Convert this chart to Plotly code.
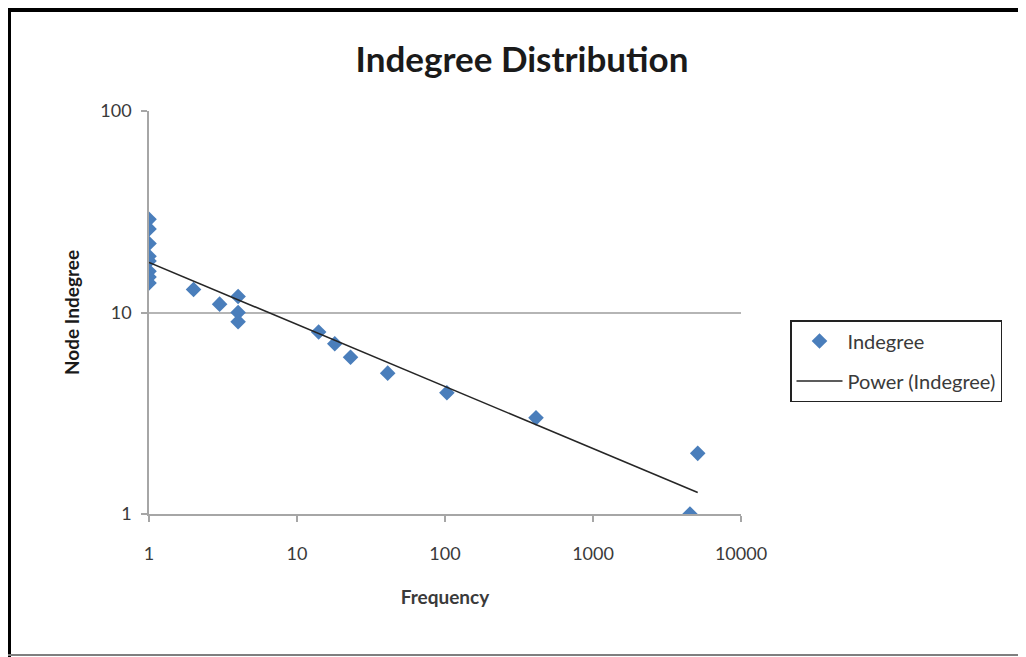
import numpy as np
import plotly.graph_objects as go

# ---- data ----
frequency = [1, 1, 1, 1, 1, 1, 1, 1, 2, 3, 4, 4, 4, 14, 18, 23, 41, 103, 412, 5100, 4520]
indegree = [29, 26, 22, 19, 18, 16, 15, 14, 13, 11, 12, 10, 9, 8, 7, 6, 5, 4, 3, 2, 1]
x_tick_vals = [1, 10, 100, 1000, 10000]
x_tick_text = ["1", "10", "100", "1000", "10000"]
y_tick_vals = [1, 10, 100]
y_tick_text = ["1", "10", "100"]

# power trendline (least squares in log-log space, like Excel's "Power" trendline)
lx = np.log10(frequency)
ly = np.log10(indegree)
b, loga = np.polyfit(lx, ly, 1)
fit_x = np.logspace(np.log10(min(frequency)), np.log10(max(frequency)), 60)
fit_y = (10 ** loga) * fit_x ** b

W, H = 1026, 657
OFF = 8  # page body margin offset
L, R, T, B = 149 - OFF, 741 - OFF, 111 - OFF, 514 - OFF  # plot area in figure pixels


def px(xs):  # screen x pixel -> paper
    return (xs - OFF - L) / (R - L)


def py(ys):  # screen y pixel -> paper
    return (B - (ys - OFF)) / (B - T)


FONT = "Lato"
TXT = "#3a3a3a"

fig = go.Figure()
fig.add_trace(go.Scatter(
    x=frequency, y=indegree, mode="markers", name="Indegree",
    legendgroup="a",
    marker=dict(symbol="diamond", size=12, color="#4A7EBB"),
))
fig.add_trace(go.Scatter(
    x=fit_x, y=fit_y, mode="lines", name="Power (Indegree)",
    legendgroup="b",
    line=dict(color="#262626", width=1.6),
))

fig.update_layout(
    width=W, height=H,
    margin=dict(l=L, r=W - R, t=T, b=H - B),
    paper_bgcolor="white", plot_bgcolor="white",
    title=dict(text="<b>Indegree Distribution</b>", x=(522 - OFF) / W, xanchor="center",
               y=1 - (60 - OFF) / H, yanchor="middle",
               font=dict(family=FONT, size=35, color="#1a1a1a")),
    showlegend=True,
    legend=dict(x=px(790), y=py(320), xanchor="left", yanchor="top",
                bordercolor="#222222", borderwidth=1.5,
                font=dict(family=FONT, size=20, color=TXT),
                traceorder="grouped", tracegroupgap=11, itemwidth=46),
    font=dict(family=FONT, color=TXT),
)

fig.update_xaxes(
    type="log", range=[0, 4],
    tickvals=x_tick_vals, ticktext=x_tick_text,
    showgrid=False, showline=True, linecolor="#a6a6a6", linewidth=1.5,
    ticks="outside", ticklen=6, tickcolor="#a6a6a6", tickwidth=1.5,
    tickfont=dict(family=FONT, size=18, color=TXT),
    ticklabelstandoff=17, zeroline=False,
    title=dict(text="<b>Frequency</b>", font=dict(family=FONT, size=19, color=TXT), standoff=27),
)
fig.update_yaxes(
    type="log", range=[0, 2],
    tickvals=y_tick_vals, ticktext=y_tick_text,
    showgrid=True, gridcolor="#b5b5b5", gridwidth=1.5,
    showline=True, linecolor="#a6a6a6", linewidth=1.5,
    ticks="outside", ticklen=6, tickcolor="#a6a6a6", tickwidth=1.5,
    tickfont=dict(family=FONT, size=18, color=TXT),
    ticklabelstandoff=6, zeroline=False,
    title=dict(text="<b>Node Indegree</b>", font=dict(family=FONT, size=19, color="#1a1a1a"), standoff=16),
)

# outer frame of the pasted chart
fig.add_shape(type="rect", xref="paper", yref="paper",
              x0=px(8), x1=px(1040), y0=py(12), y1=py(8),
              fillcolor="black", line_width=0, layer="above")
fig.add_shape(type="rect", xref="paper", yref="paper",
              x0=px(8), x1=px(11), y0=py(670), y1=py(8),
              fillcolor="black", line_width=0, layer="above")
fig.add_shape(type="line", xref="paper", yref="paper",
              x0=px(8), x1=px(1040), y0=py(655), y1=py(655),
              line=dict(color="#7f7f7f", width=2), layer="above")

fig.write_html("out.html")
